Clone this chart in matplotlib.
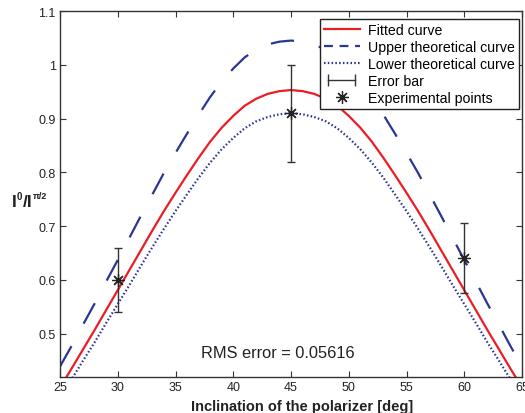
import matplotlib
matplotlib.use("Agg")
import matplotlib.pyplot as plt
from matplotlib.lines import Line2D
from matplotlib.legend_handler import HandlerLine2D

plt.rcParams['font.family'] = ['Liberation Sans', 'DejaVu Sans']

# inclination angles [deg]
angles = list(range(25, 66))

fitted = [0.400, 0.435, 0.471, 0.507, 0.544, 0.581, 0.618, 0.655, 0.692, 0.728,
          0.762, 0.795, 0.827, 0.857, 0.883, 0.905, 0.924, 0.937, 0.946, 0.951,
          0.953,
          0.951, 0.946, 0.937, 0.924, 0.905, 0.883, 0.857, 0.827, 0.795, 0.762,
          0.728, 0.692, 0.655, 0.618, 0.581, 0.544, 0.507, 0.471, 0.435, 0.400]

upper = [0.439, 0.477, 0.517, 0.556, 0.597, 0.637, 0.678, 0.719, 0.759, 0.799,
         0.836, 0.872, 0.907, 0.940, 0.969, 0.993, 1.014, 1.028, 1.038, 1.043,
         1.045,
         1.043, 1.038, 1.028, 1.014, 0.993, 0.969, 0.940, 0.907, 0.872, 0.836,
         0.799, 0.759, 0.719, 0.678, 0.637, 0.597, 0.556, 0.517, 0.477, 0.439]

lower = [0.382, 0.415, 0.450, 0.484, 0.520, 0.555, 0.590, 0.626, 0.661, 0.695,
         0.728, 0.759, 0.790, 0.818, 0.843, 0.864, 0.882, 0.895, 0.903, 0.908,
         0.910,
         0.908, 0.903, 0.895, 0.882, 0.864, 0.843, 0.818, 0.790, 0.759, 0.728,
         0.695, 0.661, 0.626, 0.590, 0.555, 0.520, 0.484, 0.450, 0.415, 0.382]

exp_angles = [30, 45, 60]
exp_values = [0.600, 0.910, 0.640]
exp_errors = [0.060, 0.090, 0.065]

xticks = [25, 30, 35, 40, 45, 50, 55, 60, 65]
yticks = [0.5, 0.6, 0.7, 0.8, 0.9, 1.0, 1.1]
yticklabels = ['0.5', '0.6', '0.7', '0.8', '0.9', '1', '1.1']

W, H = 525, 414
fig = plt.figure(figsize=(W / 100, H / 100), dpi=100)
ax = fig.add_axes([60 / W, 1 - 377.7 / H, (522 - 60) / W, (377.7 - 12) / H])

red = '#ec1c24'
navy = '#2b3592'
ink = '#222222'

ax.plot(angles, fitted, color=red, lw=1.6, label='Fitted curve')
ax.plot(angles, upper, color=navy, lw=1.6, linestyle=(0, (10.5, 11.5)),
        label='Upper theoretical curve')
ax.plot(angles, lower, color=navy, lw=1.6, linestyle=(0, (0.7, 1.0)),
        label='Lower theoretical curve')

ax.errorbar(exp_angles, exp_values, yerr=exp_errors, fmt='none', ecolor='#333333',
            elinewidth=1.0, capsize=2.8, capthick=1.0)
ax.plot(exp_angles, exp_values, linestyle='none', marker=(8, 2, 0), markersize=9,
        color=ink, markeredgewidth=0.9)

ax.text(43.9, 0.465, 'RMS error = 0.05616', fontsize=11.8, ha='center', va='center',
        color=ink)

ax.set_xlim(25, 65)
ax.set_ylim(0.42, 1.1)
ax.set_xticks(xticks)
ax.set_yticks(yticks)
ax.set_yticklabels(yticklabels)
ax.tick_params(direction='in', top=True, right=True, length=4, width=0.8,
               labelsize=9, colors='#333333', labelcolor=ink, pad=3)
for sp in ax.spines.values():
    sp.set_color('#333333')
    sp.set_linewidth(1.0)

ax.set_xlabel('Inclination of the polarizer [deg]', fontsize=10.5, fontweight='bold',
              color=ink)
ax.xaxis.set_label_coords((302 - 60) / 462, -0.062)

# y label  I^0 / I^{pi/2}, built from pieces (small superscripts)
t1 = fig.text(12 / W, 1 - 207 / H, 'I', fontsize=12.5, fontweight='bold',
              color=ink, ha='left', va='baseline')
t2 = ax.annotate('0', xy=(1.05, 1.2), xycoords=t1, ha='left', va='top',
                 fontsize=7, fontweight='bold', color=ink, annotation_clip=False)
t3 = ax.annotate('/I', xy=(1.0, 0.0), xycoords=(t2, t1), ha='left', va='bottom',
                 fontsize=12.5, fontweight='bold', color=ink, annotation_clip=False)
t4 = ax.annotate('\u03c0/2', xy=(1.05, 1.2), xycoords=t3, ha='left', va='top',
                 fontsize=6.5, fontweight='bold', color=ink, annotation_clip=False)

h_fit = Line2D([], [], color=red, lw=1.6)
h_up = Line2D([], [], color=navy, lw=1.6, linestyle=(0, (4.0, 3.0)))
h_lo = Line2D([], [], color=navy, lw=1.6, linestyle=(0, (0.7, 1.0)))
h_err = Line2D([], [], color='#333333', lw=1.0, marker='|', markersize=8,
               markeredgewidth=1.0)
h_pts = Line2D([], [], color=ink, linestyle='none', marker=(8, 2, 0),
               markersize=9, markeredgewidth=0.9)

leg = ax.legend([h_fit, h_up, h_lo, h_err, h_pts],
                ['Fitted curve', 'Upper theoretical curve', 'Lower theoretical curve',
                 'Error bar', 'Experimental points'],
                loc='upper right', bbox_to_anchor=(0.994, 0.978), borderaxespad=0,
                fontsize=10.2, fancybox=False, framealpha=1, edgecolor=ink,
                labelspacing=0.2, handlelength=2.5, handletextpad=0.6,
                borderpad=0.3, numpoints=1,
                handler_map={h_err: HandlerLine2D(numpoints=2)})
leg.get_frame().set_linewidth(1.0)

fig.savefig('out.png', dpi=100)
